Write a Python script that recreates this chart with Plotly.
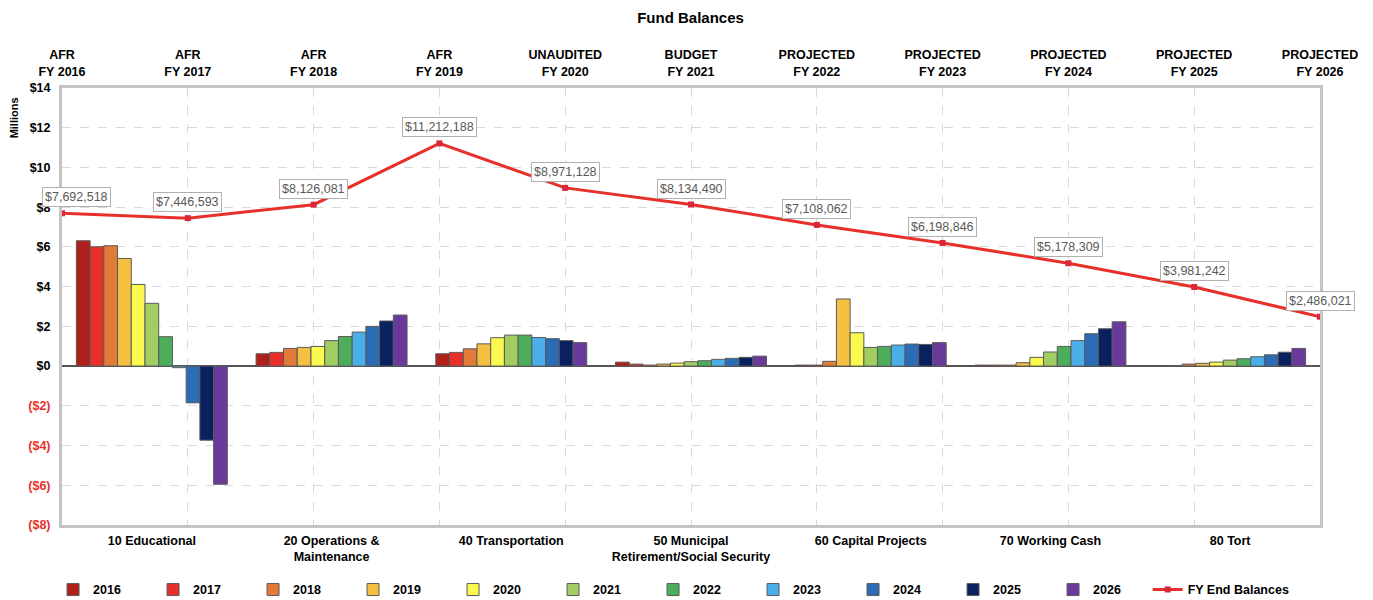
import plotly.graph_objects as go

categories = ["10 Educational", "20 Operations &<br>Maintenance", "40 Transportation",
              "50 Municipal<br>Retirement/Social Security", "60 Capital Projects",
              "70 Working Cash", "80 Tort"]
years = ["2016", "2017", "2018", "2019", "2020", "2021", "2022", "2023", "2024", "2025", "2026"]

# values in $ millions, per year across the 7 funds
v2016 = [6.31, 0.62, 0.62, 0.20, 0.05, 0.05, 0.03]
v2017 = [6.01, 0.69, 0.69, 0.10, 0.05, 0.05, 0.03]
v2018 = [6.06, 0.89, 0.87, 0.05, 0.24, 0.05, 0.10]
v2019 = [5.42, 0.94, 1.12, 0.10, 3.38, 0.17, 0.14]
v2020 = [4.11, 0.99, 1.43, 0.15, 1.68, 0.44, 0.20]
v2021 = [3.16, 1.28, 1.56, 0.22, 0.94, 0.71, 0.30]
v2022 = [1.48, 1.49, 1.56, 0.27, 0.99, 0.99, 0.37]
v2023 = [-0.08, 1.71, 1.44, 0.34, 1.06, 1.28, 0.47]
v2024 = [-1.85, 2.00, 1.38, 0.39, 1.11, 1.63, 0.57]
v2025 = [-3.73, 2.27, 1.28, 0.44, 1.09, 1.88, 0.70]
v2026 = [-5.95, 2.57, 1.18, 0.50, 1.18, 2.23, 0.89]
year_values = [v2016, v2017, v2018, v2019, v2020, v2021, v2022, v2023, v2024, v2025, v2026]

year_colors = ["#B0201A", "#E8302A", "#E07B39", "#F5BF42", "#FCF94E", "#A2CD62",
               "#4CAD5A", "#4AAEE8", "#2B6CB5", "#0A2160", "#693A9A"]

fy_labels = ["AFR<br>FY 2016", "AFR<br>FY 2017", "AFR<br>FY 2018", "AFR<br>FY 2019",
             "UNAUDITED<br>FY 2020", "BUDGET<br>FY 2021", "PROJECTED<br>FY 2022",
             "PROJECTED<br>FY 2023", "PROJECTED<br>FY 2024", "PROJECTED<br>FY 2025",
             "PROJECTED<br>FY 2026"]
fy_balances = [7692518, 7446593, 8126081, 11212188, 8971128, 8134490,
               7108062, 6198846, 5178309, 3981242, 2486021]

y_ticks = [14, 12, 10, 8, 6, 4, 2, 0, -2, -4, -6, -8]

fig = go.Figure()
for yr, vals, col in zip(years, year_values, year_colors):
    fig.add_trace(go.Bar(
        x=categories, y=vals, name="<b>" + yr + "</b>", marker_color=col,
        marker_line_color="#5a5a5a", marker_line_width=1,
        xaxis="x", yaxis="y", legend="legend"))

fy_idx = list(range(len(fy_labels)))
fig.add_trace(go.Scatter(
    x=fy_idx, y=[b / 1e6 for b in fy_balances], name="<b>FY End Balances</b>",
    mode="lines+markers", line=dict(color="#E8302A", width=3),
    marker=dict(symbol="square", size=6, color="#D8283A"),
    xaxis="x2", yaxis="y", cliponaxis=False, legend="legend2"))

for i, b in zip(fy_idx, fy_balances):
    fig.add_annotation(
        x=i, y=b / 1e6, xref="x2", yref="y", text="${:,}".format(b),
        showarrow=False, yshift=16, xshift=(14 if i == 0 else 0),
        font=dict(size=12.5, color="#595959", family="Liberation Sans"),
        bgcolor="white", bordercolor="#b0b0b0", borderwidth=1, borderpad=2)

def ytxt(v):
    if v < 0:
        return "<span style='color:#E8302A'><b>(${})</b></span>".format(-v)
    return "<b>${}</b>".format(v)

fig.update_layout(
    width=1365, height=592,
    margin=dict(l=54, r=53, t=80, b=75),
    paper_bgcolor="white", plot_bgcolor="white",
    font=dict(family="Liberation Sans", size=12, color="black"),
    title=dict(text="<b>Fund Balances</b>", x=0.5, xanchor="center",
               y=0.983, yanchor="middle", yref="container",
               font=dict(size=15, family="Liberation Sans")),
    barmode="group", bargap=0.16, bargroupgap=0,
    xaxis=dict(type="category", tickvals=categories, automargin=False,
               ticktext=["<b>" + c.replace("<br>", "</b><br><b>") + "</b>" for c in categories],
               showgrid=False, ticks="", tickfont=dict(size=12.5), ticklabelstandoff=2,
               showline=True, linecolor="#c4c4c4", linewidth=3, mirror=True),
    xaxis2=dict(overlaying="x", side="top", range=[0, 10], automargin=False,
                tickvals=fy_idx,
                ticktext=["<b>" + f.replace("<br>", "</b><br><b>") + "</b>" for f in fy_labels],
                showgrid=True, gridcolor="#d9d9d9", griddash="dash", gridwidth=1,
                ticks="", tickfont=dict(size=12.5), zeroline=False, ticklabelstandoff=9),
    yaxis=dict(range=[-8, 14], tickvals=y_ticks, ticktext=[ytxt(v) for v in y_ticks],
               automargin=False,
               showgrid=True, gridcolor="#d9d9d9", griddash="dash", gridwidth=1,
               zeroline=True, zerolinecolor="#555555", zerolinewidth=1.5,
               tickfont=dict(size=12.5), ticks="", ticklabelstandoff=6,
               showline=True, linecolor="#c4c4c4", linewidth=3, mirror=True),
    legend=dict(orientation="h", x=0.033, xanchor="left", xref="container",
                y=0.017, yanchor="middle", yref="container",
                entrywidth=55, entrywidthmode="pixels",
                font=dict(size=12.5), traceorder="normal", itemwidth=30),
    legend2=dict(orientation="h", x=0.863, xanchor="left",
                 y=0.017, yanchor="middle", yref="container",
                 font=dict(size=12.5), itemwidth=30),
)
fig.add_annotation(text="<b>Millions</b>", xref="paper", yref="paper",
                   x=-0.038, y=0.931, textangle=-90, showarrow=False,
                   font=dict(size=11), xanchor="center", yanchor="middle")

fig.write_html("out.html")
